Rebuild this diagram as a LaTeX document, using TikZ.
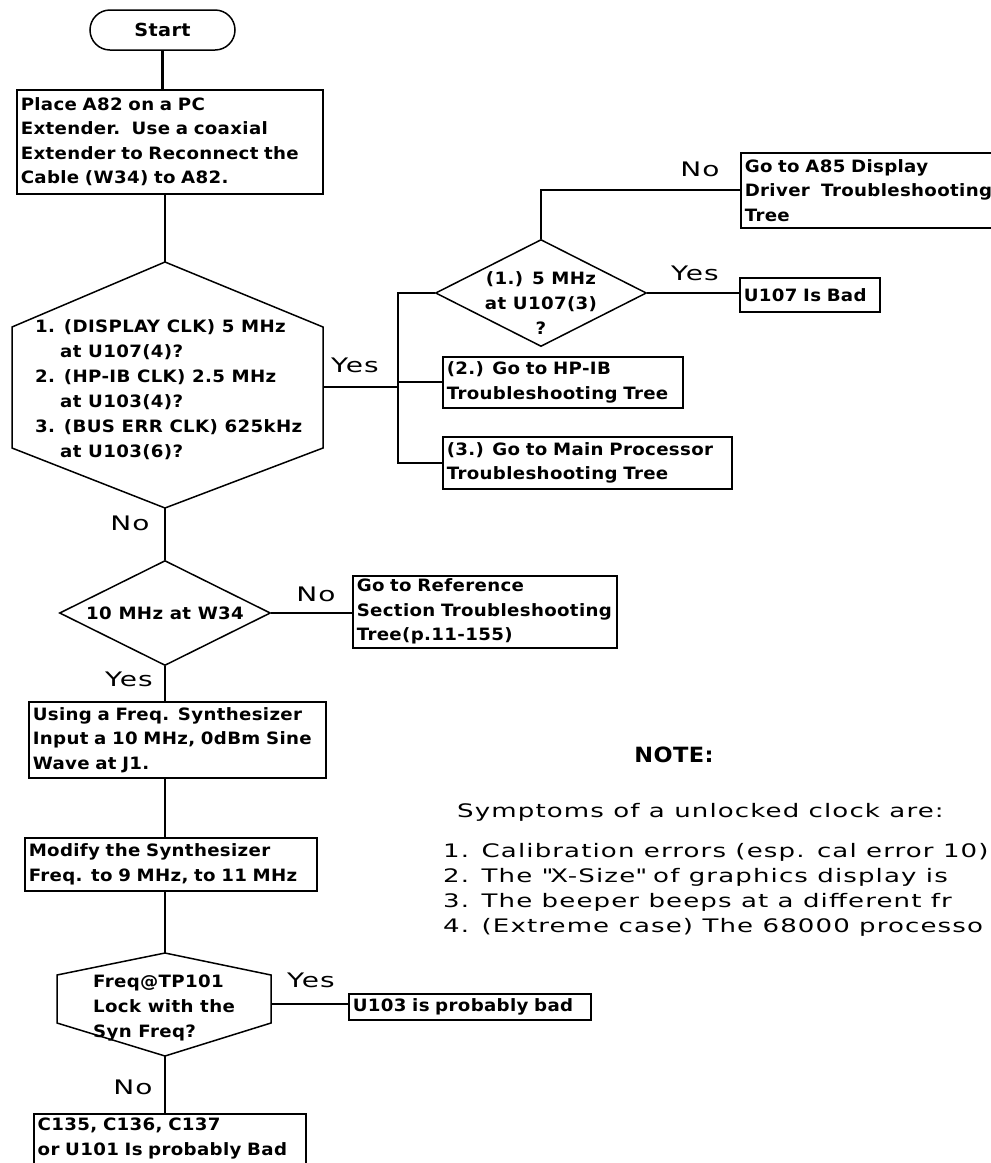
\documentclass[tikz,border=0pt]{standalone}
\usepackage{fontspec}
\setmainfont{DejaVu Sans}[FakeStretch=1.4,LetterSpace=6]
\newfontfamily\boxfont{DejaVu Sans}[FakeStretch=1.07,LetterSpace=2]
\usetikzlibrary{shapes.geometric}

\begin{document}
\begin{tikzpicture}[x=1pt,y=-1pt,
  stepbox/.style={draw,line width=1.5pt,anchor=north west,align=left,inner xsep=4pt,inner ysep=2pt,
    font=\boxfont\bfseries\fontsize{17}{24.5}\selectfont},
  decision/.style={draw,diamond,line width=1.5pt,inner sep=0pt},
  conn/.style={line width=2.1pt},
  yn/.style={inner sep=0pt,font=\fontsize{20}{24}\selectfont},
  hextext/.style={anchor=west,align=left,inner sep=0pt,font=\boxfont\bfseries\fontsize{17}{25}\selectfont},
  notetext/.style={anchor=west,inner sep=0pt,font=\fontsize{18.6}{24}\selectfont}]
  \useasboundingbox (0,0) rectangle (991,1163);
  \clip (0,0) rectangle (991,1163);
  \coordinate (col) at (165,0);
  \coordinate (bus) at (398,293);

  \node[draw,line width=1.5pt,rounded corners=20pt,minimum width=145pt,minimum height=40pt,
    font=\boxfont\bfseries\fontsize{18}{20}\selectfont] (start) at (162.5,30) {Start};
  \node[stepbox,text width=298pt,minimum height=104pt] (place) at (16,89)
    {Place A82 on a PC\\Extender.~~Use a coaxial\\Extender to Reconnect the\\Cable (W34) to A82.};

  \coordinate (h1n) at (165,262);
  \coordinate (h1s) at (165,508);
  \coordinate (h1e) at (323,387);
  \draw[line width=1.5pt] (h1n) -- (323,327) -- (323,448) -- (h1s) -- (12,448) -- (12,327) -- cycle;
  \node[hextext] (h1txt) at (35,389.5)
    {1. (DISPLAY CLK) 5 MHz\\\hspace*{25pt}at U107(4)?\\2. (HP-IB CLK) 2.5 MHz\\\hspace*{25pt}at U103(4)?\\3. (BUS ERR CLK) 625kHz\\\hspace*{25pt}at U103(6)?};

  \node[decision,minimum width=211pt,minimum height=107pt] (dia2) at (541,293) {};
  \node[align=center,inner sep=0pt,font=\boxfont\bfseries\fontsize{17}{25}\selectfont] (dia2txt) at (541,303) {(1.) 5 MHz\\at U107(3)\\?};
  \node[stepbox,text width=257pt,minimum height=75pt] (a85) at (740,152)
    {Go to A85 Display\\Driver\ \ Troubleshooting\\Tree};
  \node[stepbox,text width=132pt,minimum height=34pt] (u107) at (739,277) {U107 Is Bad};
  \node[stepbox,text width=232pt,minimum height=51pt] (hpib) at (442,356)
    {(2.) Go to HP-IB\\Troubleshooting Tree};
  \node[stepbox,text width=281pt,minimum height=52pt] (main) at (442,436)
    {(3.) Go to Main Processor\\Troubleshooting Tree};

  \node[decision,aspect=2,minimum width=211pt,minimum height=105pt,
    font=\boxfont\bfseries\fontsize{17}{20}\selectfont] (w34) at (165,613) {10 MHz at W34};
  \node[stepbox,text width=256pt,minimum height=72pt] (ref) at (352,575)
    {Go to Reference\\Section Troubleshooting\\Tree(p.11-155)};
  \node[stepbox,text width=289pt,minimum height=76pt] (using) at (28,701)
    {Using a Freq. Synthesizer\\Input a 10 MHz, 0dBm Sine\\Wave at J1.};
  \node[stepbox,text width=284pt,minimum height=53pt] (modify) at (24,837)
    {Modify the Synthesizer\\Freq. to 9 MHz, to 11 MHz};

  \coordinate (f1n) at (165,953);
  \coordinate (f1s) at (165,1056);
  \coordinate (f1e) at (271,1004);
  \draw[line width=1.5pt] (f1n) -- (271,975) -- (271,1023) -- (f1s) -- (57,1023) -- (57,975) -- cycle;
  \node[hextext] (f1txt) at (93,1008) {Freq@TP101\\Lock with the\\Syn Freq?};
  \node[stepbox,text width=234pt,minimum height=26pt] (u103) at (348,993) {U103 is probably bad};
  \node[stepbox,text width=264pt,minimum height=50pt] (bad) at (33,1113)
    {C135, C136, C137\\or U101 Is probably Bad};

  \draw[conn] (start.south) -- (start.south |- place.north);
  \draw[conn] (h1n |- place.south) -- (h1n);
  \draw[conn] (h1e) -- (h1e -| bus);
  \draw[conn] (dia2.west) -| (bus |- main.west) -- (main.west);
  \draw[conn] (bus |- hpib.west) -- (hpib.west);
  \draw[conn] (dia2.north) |- (a85.west);
  \draw[conn] (dia2.east) -- (dia2.east -| u107.west);
  \draw[conn] (h1s) -- (w34.north);
  \draw[conn] (w34.east) -- (w34.east -| ref.west);
  \draw[conn] (w34.south) -- (col |- using.north);
  \draw[conn] (col |- using.south) -- (col |- modify.north);
  \draw[conn] (col |- modify.south) -- (f1n);
  \draw[conn] (f1e) -- (f1e -| u103.west);
  \draw[conn] (f1s) -- (col |- bad.north);

  \node[yn] (yes1) at (355,365) {Yes};
  \node[yn] (no1) at (700,169) {No};
  \node[yn] (yes2) at (695,273) {Yes};
  \node[yn] (no2) at (130,523) {No};
  \node[yn] (no3) at (316,594) {No};
  \node[yn] (yes3) at (129,679) {Yes};
  \node[yn] (yes4) at (311,980) {Yes};
  \node[yn] (no4) at (133,1087) {No};

  \node[inner sep=0pt,font=\boxfont\bfseries\fontsize{21}{24}\selectfont] (note) at (674,755) {NOTE:};
  \node[notetext] (symp) at (457,812) {Symptoms of a unlocked clock are:};
  \node[notetext] (sy1) at (443,852) {1. Calibration errors (esp. cal error 10)};
  \node[notetext] (sy2) at (443,877) {2. The \textquotedbl X-Size\textquotedbl{} of graphics display is};
  \node[notetext] (sy3) at (443,902) {3. The beeper beeps at a different fr};
  \node[notetext] (sy4) at (443,927) {4. (Extreme case) The 68000 processo};
\end{tikzpicture}
\end{document}
